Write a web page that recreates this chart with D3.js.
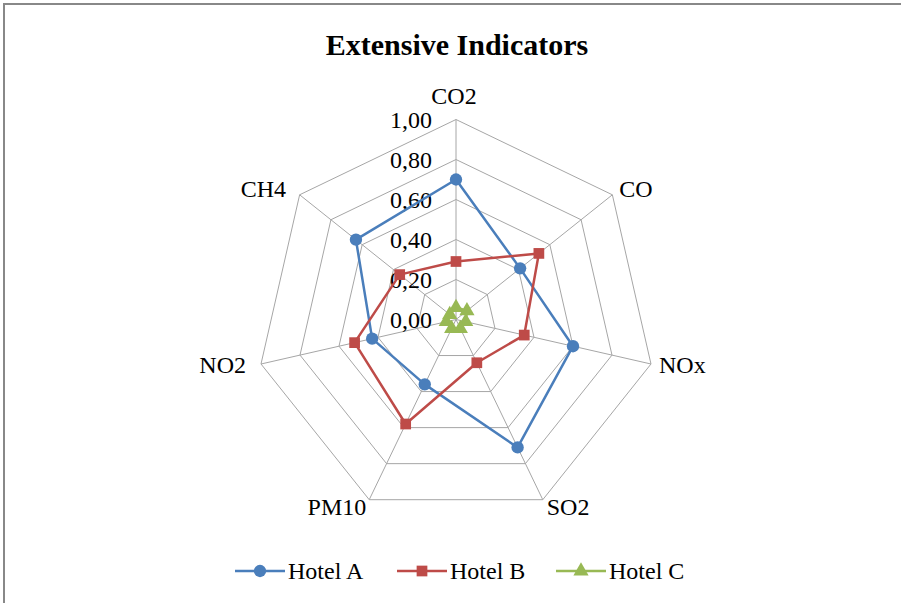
<!DOCTYPE html>
<html>
<head>
<meta charset="utf-8">
<script src="https://cdn.jsdelivr.net/npm/d3@7/dist/d3.min.js"></script>
<style>
  html, body { margin: 0; padding: 0; background: #fff; }
  svg { display: block; }
</style>
</head>
<body>
<svg id="chart" width="901" height="603"></svg>
<script>
// Radar chart: emission indicators for three hotels
const indicators = ["CO2", "CO", "NOx", "SO2", "PM10", "NO2", "CH4"];
const hotelA = [0.70, 0.41, 0.60, 0.71, 0.36, 0.43, 0.64];
const hotelB = [0.29, 0.53, 0.35, 0.24, 0.58, 0.52, 0.36];
const hotelC = [0.06, 0.07, 0.05, 0.05, 0.05, 0.05, 0.04];
const seriesNames = ["Hotel A", "Hotel B", "Hotel C"];
const tickValues = [0, 0.2, 0.4, 0.6, 0.8, 1.0];
const colors = ["#4A7EBB", "#BE4B48", "#98B954"];
const symbols = [d3.symbolCircle, d3.symbolSquare, d3.symbolTriangle];

const svg = d3.select("#chart");
const W = 901, H = 603;
const cx = 456, cy = 319.5, R = 200;
const serif = "'Liberation Serif', 'Times New Roman', serif";
const fontSize = 24;

// outer frame (extends past right and bottom edge)
svg.append("rect")
  .attr("x", 4).attr("y", 4).attr("width", W + 10).attr("height", H + 10)
  .attr("fill", "#fff").attr("stroke", "#888").attr("stroke-width", 2);

// title
svg.append("text")
  .attr("x", 457).attr("y", 55)
  .attr("text-anchor", "middle")
  .attr("font-family", serif).attr("font-weight", "bold").attr("font-size", 30)
  .attr("fill", "#000")
  .text("Extensive Indicators");

const r = d3.scaleLinear().domain([0, 1]).range([0, R]);
const angle = d3.scalePoint().domain(indicators).range([0, 2 * Math.PI * (indicators.length - 1) / indicators.length]);
const pt = (name, v) => {
  const a = angle(name);
  return [cx + r(v) * Math.sin(a), cy - r(v) * Math.cos(a)];
};

const g = svg.append("g");

// polygon gridlines
tickValues.forEach(t => {
  g.append("polygon")
    .attr("points", indicators.map(n => pt(n, t).join(",")).join(" "))
    .attr("fill", "none").attr("stroke", "#A6A6A6").attr("stroke-width", 1);
});

// spokes
indicators.forEach(n => {
  const [x, y] = pt(n, 1);
  g.append("line")
    .attr("x1", cx).attr("y1", cy).attr("x2", x).attr("y2", y)
    .attr("stroke", "#A6A6A6").attr("stroke-width", 1);
});

// axis value labels along the first spoke
tickValues.forEach(t => {
  g.append("text")
    .attr("x", cx - 24).attr("y", cy - r(t) + 8)
    .attr("text-anchor", "end")
    .attr("font-family", serif).attr("font-size", fontSize).attr("fill", "#000")
    .text(d3.format(".2f")(t).replace(".", ","));
});

// category labels (baseline offsets from each spoke tip)
const labelPos = {
  "CO2": { dx: -2, dy: -16, anchor: "middle" },
  "CO": { dx: 7, dy: 2.5, anchor: "start" },
  "NOx": { dx: 8, dy: 9, anchor: "start" },
  "SO2": { dx: 4, dy: 15.5, anchor: "start" },
  "PM10": { dx: -3, dy: 15.5, anchor: "end" },
  "NO2": { dx: -15, dy: 9, anchor: "end" },
  "CH4": { dx: -13.5, dy: 2.5, anchor: "end" }
};
indicators.forEach(n => {
  const [x, y] = pt(n, 1);
  const p = labelPos[n];
  g.append("text")
    .attr("x", x + p.dx).attr("y", y + p.dy)
    .attr("text-anchor", p.anchor)
    .attr("font-family", serif).attr("font-size", fontSize).attr("fill", "#000")
    .text(n);
});

// series
const allSeries = [hotelA, hotelB, hotelC];
const line = d3.line().curve(d3.curveLinearClosed);
const symSizes = [120, 115, 100];
allSeries.forEach((vals, i) => {
  const pts = vals.map((v, k) => pt(indicators[k], v));
  g.append("path")
    .attr("d", line(pts))
    .attr("fill", "none").attr("stroke", colors[i]).attr("stroke-width", 2.5)
    .attr("stroke-linejoin", "round");
  g.selectAll(null).data(pts).enter().append("path")
    .attr("transform", d => `translate(${d[0]},${d[1]})`)
    .attr("d", d3.symbol().type(symbols[i]).size(symSizes[i]))
    .attr("fill", colors[i]);
});

// legend
const legendX = [235, 397, 556];
const legendY = 571;
seriesNames.forEach((name, i) => {
  const lg = svg.append("g").attr("transform", `translate(${legendX[i]},${legendY})`);
  lg.append("line").attr("x1", 0).attr("x2", 50).attr("y1", 0).attr("y2", 0)
    .attr("stroke", colors[i]).attr("stroke-width", 2.5);
  lg.append("path").attr("transform", "translate(25,0)")
    .attr("d", d3.symbol().type(symbols[i]).size(symSizes[i])).attr("fill", colors[i]);
  lg.append("text").attr("x", 53).attr("y", 8)
    .attr("font-family", serif).attr("font-size", fontSize).attr("fill", "#000")
    .text(name);
});
</script>
</body>
</html>
